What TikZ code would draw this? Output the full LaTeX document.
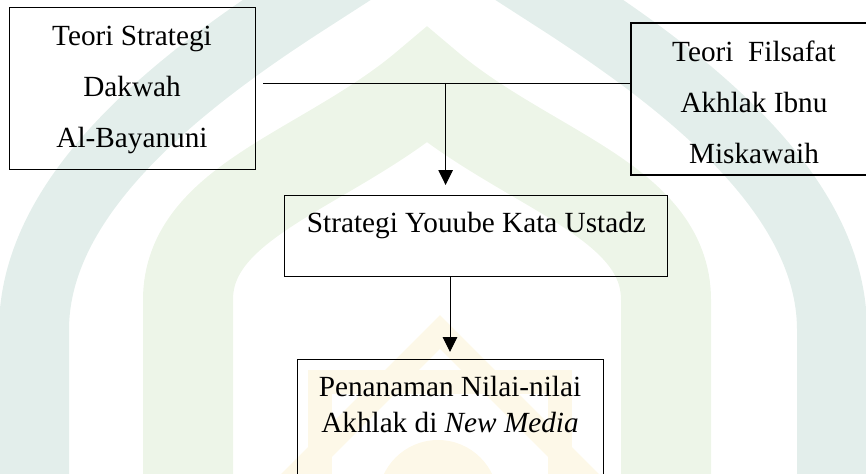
\documentclass[tikz,border=0pt]{standalone}
\usepackage{fontspec}
\setmainfont{Liberation Serif}
\usepackage{tikz}
\usetikzlibrary{arrows.meta,calc}
\definecolor{wmteal}{HTML}{E3EEEB}
\definecolor{wmgreen}{HTML}{EDF5E8}
\definecolor{wmyellow}{HTML}{FDF8E8}

\begin{document}
\begin{tikzpicture}[
  box/.style={draw,rectangle,inner sep=0pt,outer sep=0pt,line width=0.7pt,align=center,
    font=\fontsize{20.8pt}{36.1pt}\selectfont},
  pfeil/.style={-{Triangle[length=0.37cm,width=0.36cm]},line width=0.7pt}
]
  \clip (0,0) rectangle (21.65,11.825);
  % Hintergrund (Wasserzeichen)
  \draw[wmteal,line width=1.75cm,line join=miter] (0.85,-0.5) -- (0.85,3.575)
    .. controls (0.85,6.825) and (4.15,9.575) .. (7.65,11.825) -- (10.825,13.87)
    -- (14,11.825) .. controls (17.5,9.575) and (20.8,6.825) .. (20.8,3.575) -- (20.8,-0.5);
  \draw[wmgreen,line width=2.25cm,line join=miter] (4.7,-0.5) -- (4.7,4.325)
    .. controls (4.7,6.825) and (8.175,7.575) .. (10.675,9.7)
    .. controls (13.175,7.575) and (16.65,6.825) .. (16.65,4.325) -- (16.65,-0.5);
  \draw[wmyellow,line width=0.6cm,line join=miter] (11,3.525) -- (15.25,-0.725)
    -- (11,-4.975) -- (6.75,-0.725) -- cycle;
  \draw[wmyellow,line width=0.6cm,line join=miter] (8,2.275) rectangle (14,-3.725);
  \fill[wmyellow] (10.95,-0.675) circle (1.5);
  % Kästen
  \node[box,anchor=north,minimum width=6.15cm,text height=3.49cm,text depth=0.55cm]
    (dakwah) at (3.3,11.64) {Teori Strategi\\Dakwah\\Al-Bayanuni};
  \node[box,anchor=north,minimum width=6.15cm,line width=1.4pt,text height=3.51cm,text depth=0.3cm]
    (akhlak) at (18.85,11.26) {Teori\ \ Filsafat\\Akhlak Ibnu\\Miskawaih};
  \node[box,anchor=north,minimum width=9.575cm,text height=0.91cm,text depth=1.1cm]
    (strategi) at (11.91,6.93) {Strategi Youube Kata Ustadz};
  \node[box,anchor=north,minimum width=7.65cm,text height=1.825cm,text depth=2cm,
    font=\fontsize{20.8pt}{24.9pt}\selectfont]
    (penanaman) at (11.25,2.85) {Penanaman Nilai-nilai\\Akhlak di \textit{New Media}};
  % Verbindungen
  \coordinate (knoten) at (11.14,9.75);
  \draw[line width=0.7pt] ([xshift=0.2cm]dakwah.east |- knoten) -- (akhlak.west |- knoten);
  \draw[pfeil,shorten >=0.27cm] (knoten) -- (knoten |- strategi.north);
  \draw[pfeil,shorten >=0.175cm] (strategi.south -| penanaman.north) -- (penanaman.north);
\end{tikzpicture}
\end{document}
